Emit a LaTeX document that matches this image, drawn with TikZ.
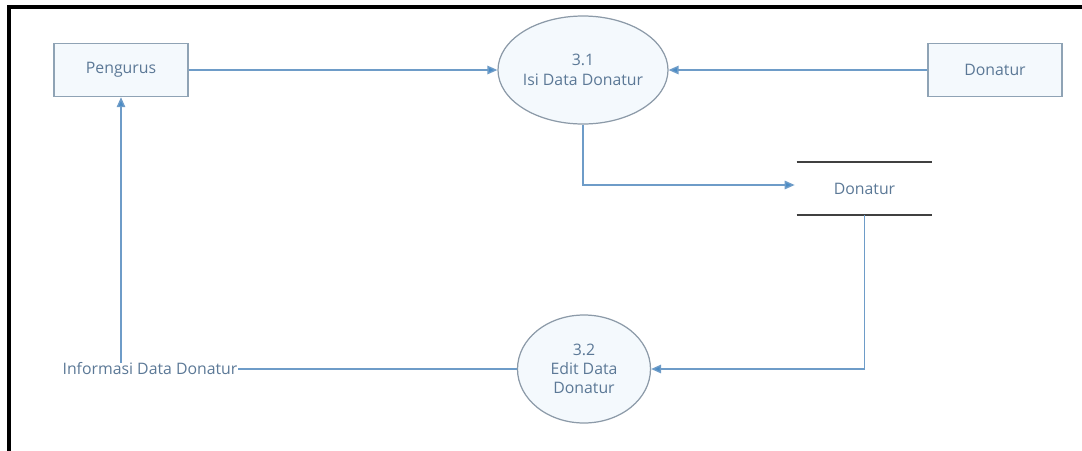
\documentclass[tikz,border=0pt]{standalone}
\usepackage{fontspec}
\setmainfont{Open Sans}
\usepackage{xcolor}
\usetikzlibrary{arrows.meta,positioning,shapes.geometric,calc}
\definecolor{cLine}{HTML}{6E9CC8}
\definecolor{cTip}{HTML}{4A8CC6}
\definecolor{cText}{HTML}{5B7896}
\definecolor{cEdge}{HTML}{8FA3B5}
\definecolor{cFill}{HTML}{F4F9FD}
\definecolor{cRing}{HTML}{8C9AA8}
\tikzset{
  entity/.style ={draw=cEdge, fill=cFill, line width=0.8pt, minimum width=2.68cm,
                  minimum height=1.06cm, inner sep=2pt, text=cText,
                  font=\fontsize{9}{11}\selectfont},
  proc/.style   ={draw=cRing, fill=cFill, ellipse, line width=0.7pt, minimum width=2.66cm,
                  minimum height=2.16cm, inner sep=0pt, align=center, text=cText,
                  font=\fontsize{9}{11}\selectfont},
  store/.style  ={minimum width=2.70cm, minimum height=1.06cm, inner sep=2pt, text=cText,
                  font=\fontsize{9}{11}\selectfont},
  flowlbl/.style={inner sep=0pt, text=cText, font=\fontsize{9}{11}\selectfont},
  flow/.style   ={-{Triangle[length=2mm,width=1.7mm,fill=cTip]}, line width=0.8pt, draw=cLine},
  plain/.style  ={line width=0.8pt, draw=cLine},
}
\begin{document}
\begin{tikzpicture}
        \useasboundingbox (0,0) rectangle (21.64,-9.0);
        % frame
        \draw[line width=2pt] (0.18,-9.1)--(0.18,-0.14)--(21.8,-0.14);
        % external entities
        \node[entity] (pengurus) at (2.42,-1.40) {Pengurus};
        \node[entity] (donatur) at (19.90,-1.40) {Donatur};
        % processes
        \node[proc] (isi) at (11.66,-1.40) {3.1\\Isi Data Donatur};
        \node[proc] (edit) at (11.68,-7.38) {3.2\\Edit Data\\Donatur};
        % data store
        \node[store] (dsdonatur) at (17.29,-3.77) {Donatur};
        \draw[line width=1pt, draw=black!75] (dsdonatur.north west)--(dsdonatur.north east);
        \draw[line width=1pt, draw=black!75] (dsdonatur.south west)--(dsdonatur.south east);
        % label
        \node[flowlbl] (info) at (3.00,-7.38) {Informasi Data Donatur};
        % flows
        \draw[flow] (pengurus.east) -- (isi.west);
        \draw[flow] (donatur.west) -- (isi.east);
        \draw[flow] (isi.south) |- ($(dsdonatur.west)+(-0.04,0.07)$);
        \draw[flow] (dsdonatur.south) |- (edit.east);
        \draw[plain] (edit.west) -- (info.east);
        \draw[flow] (info.north -| pengurus.south) -- (pengurus.south);
      \end{tikzpicture}
\end{document}
